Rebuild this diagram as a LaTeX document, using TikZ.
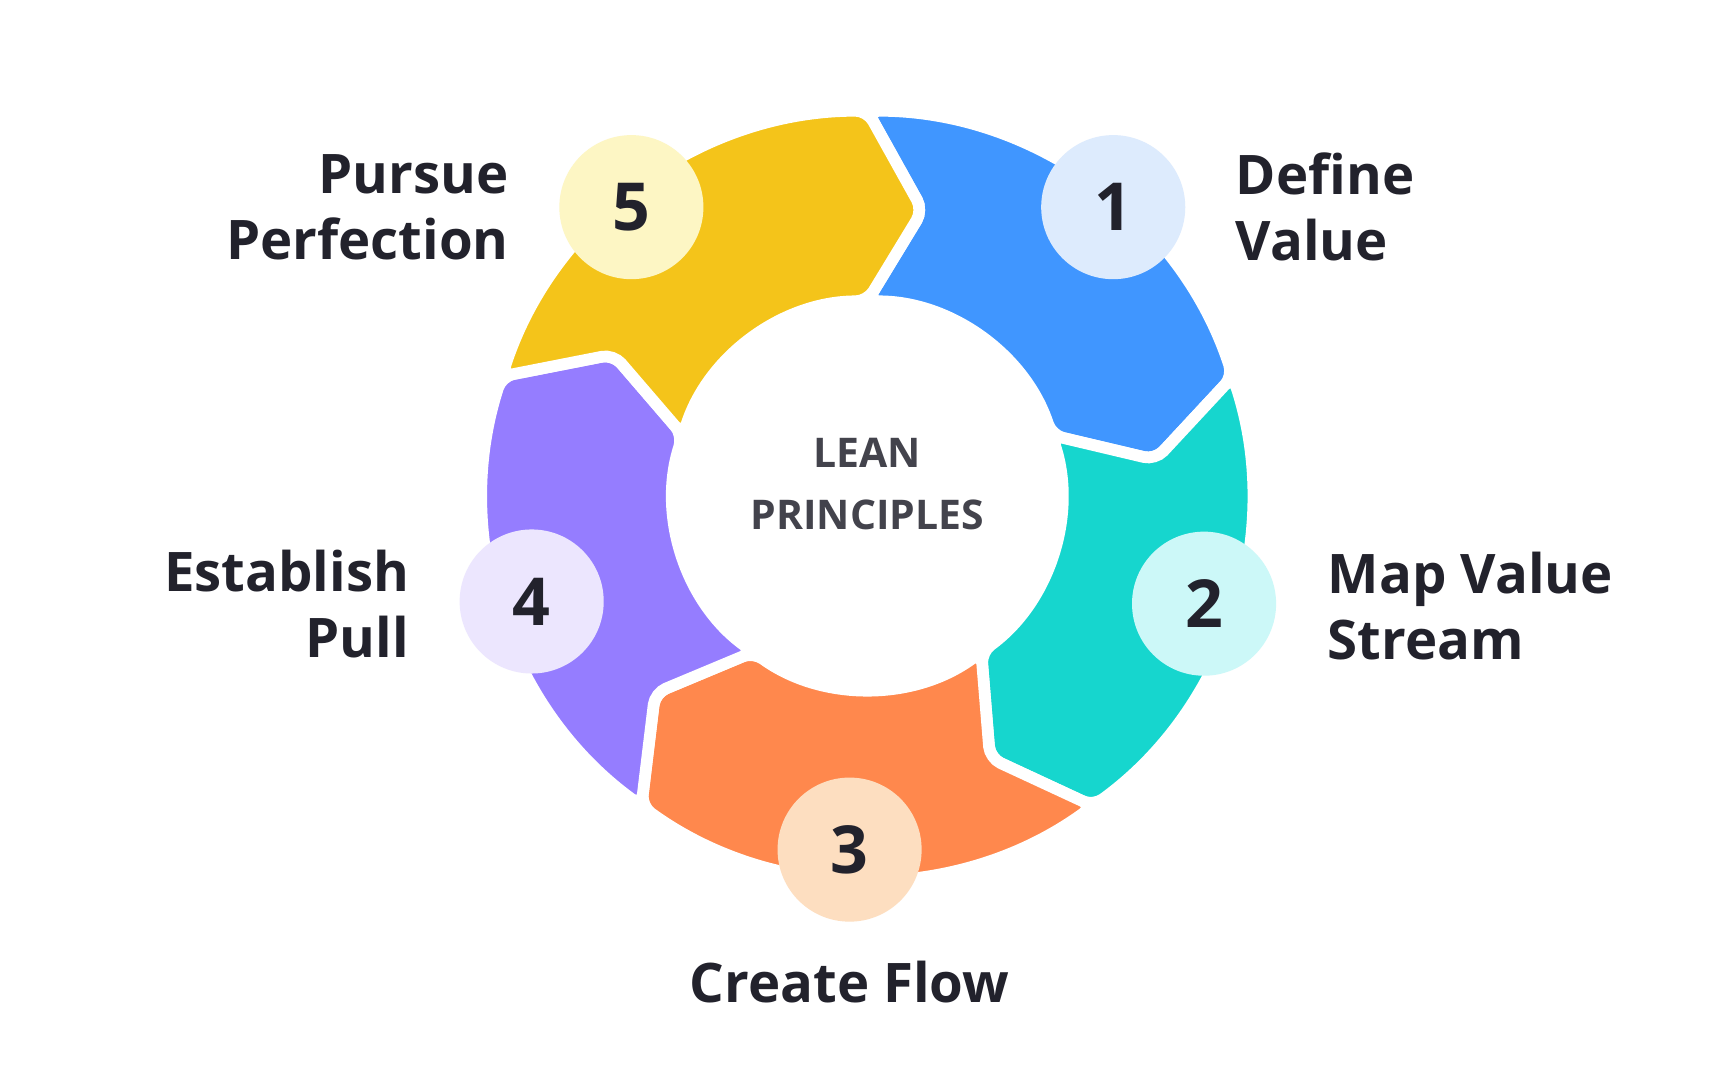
\documentclass[tikz,border=0pt]{standalone}
\usepackage{fontspec}
\setmainfont{Open Sans}
\definecolor{cb}{HTML}{4096FF}\definecolor{ct}{HTML}{16D6CE}\definecolor{co}{HTML}{FF884D}
\definecolor{cp}{HTML}{957DFF}\definecolor{cy}{HTML}{F4C41A}
\definecolor{lb}{HTML}{DDEBFD}\definecolor{lt}{HTML}{CCF8F8}\definecolor{lo}{HTML}{FDDEC0}
\definecolor{lp}{HTML}{ECE6FE}\definecolor{ly}{HTML}{FDF6C4}
\definecolor{ink}{HTML}{22222C}
\begin{document}
\begin{tikzpicture}[x=0.01cm,y=0.01cm,
 seg/.style={fill=#1,draw=white,line width=3pt,rounded corners=3pt},
 num/.style={circle,fill=#1,minimum size=1.3cm,inner sep=0pt,font=\fontsize{17}{20}\selectfont\bfseries,text=ink},
 lab/.style={font=\fontsize{14}{17}\selectfont\bfseries,text=ink,inner sep=0pt}]
\useasboundingbox (-783,-528) rectangle (777,447);
\fill[white] (-783,-528) rectangle (777,447);
\foreach \a/\c in {90/cb,18/ct,-54/co,-126/cp,162/cy}{
 \pgfmathsetmacro{\b}{\a-72}
 \draw[seg=\c] (\a:347) arc[start angle=\a,end angle=\b,radius=347] -- (\b-11:262) -- (\b:175)
  arc[start angle=\b,end angle=\a,radius=175] -- (\a-11:262) -- cycle;
}
\node[num=lb] (n1) at (222,260) {1};
\node[num=lt] (n2) at (304,-98) {2};
\node[num=lo] (n3) at (-16,-320) {3};
\node[num=lp] (n4) at (-303,-96) {4};
\node[num=ly] (n5) at (-213,260) {5};
\node[lab,anchor=west,align=left] (t1) at (332,260) {Define\\Value};
\node[lab,anchor=west,align=left] (t2) at (415,-100) {Map Value\\Stream};
\node[lab] (t3) at (-16,-440) {Create Flow};
\node[lab,anchor=east,align=right] (t4) at (-413,-98) {Establish\\Pull};
\node[lab,anchor=east,align=right] (t5) at (-323,260) {Pursue\\Perfection};
\node[font=\fontsize{10.5}{16}\selectfont\bfseries,text=ink!85,align=center] (c) at (0,10) {LEAN\\PRINCIPLES};
\end{tikzpicture}
\end{document}
